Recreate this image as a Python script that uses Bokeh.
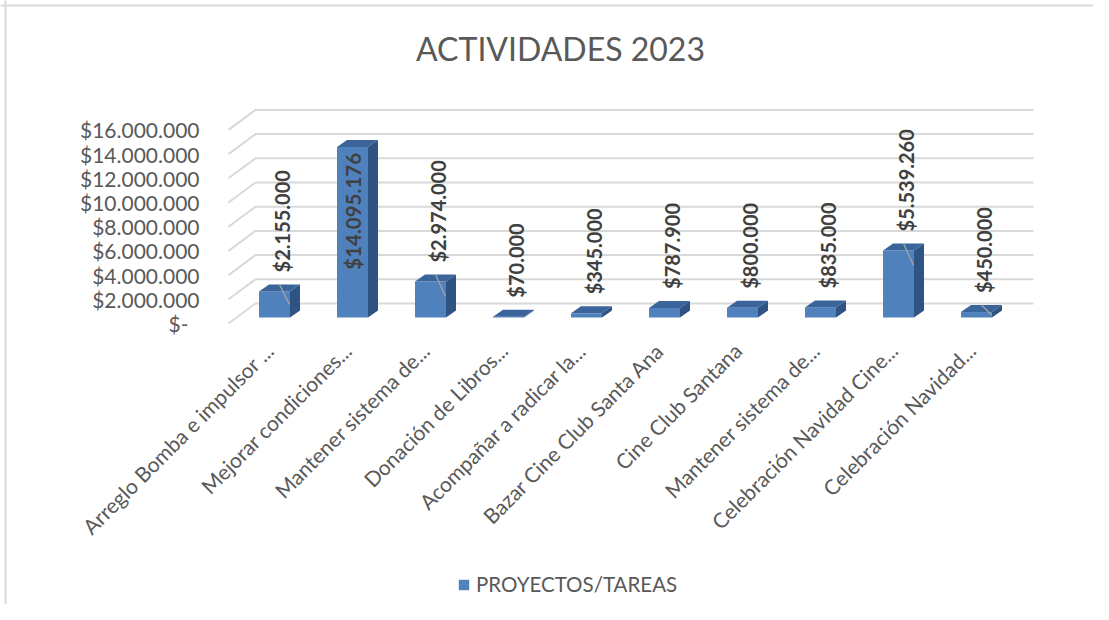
import math
from bokeh.plotting import figure
from bokeh.models import ColumnDataSource, Range1d, Legend, LegendItem, Span
from bokeh.core.properties import value
from bokeh.embed import file_html
from bokeh.resources import INLINE

# ---------------- data ----------------
TITLE = "ACTIVIDADES 2023"
SERIES_NAME = "PROYECTOS/TAREAS"
CATEGORIES = [
    "Arreglo Bomba e impulsor ...",
    "Mejorar condiciones...",
    "Mantener sistema de...",
    "Donación de Libros...",
    "Acompañar a radicar la...",
    "Bazar Cine Club Santa Ana",
    "Cine Club Santana",
    "Mantener sistema de...",
    "Celebración Navidad Cine...",
    "Celebración Navidad...",
]
VALUES = [2155000, 14095176, 2974000, 70000, 345000, 787900, 800000, 835000, 5539260, 450000]
Y_TICKS = [0, 2000000, 4000000, 6000000, 8000000, 10000000, 12000000, 14000000, 16000000]
Y_TICK_LABELS = ["$-", "$2.000.000", "$4.000.000", "$6.000.000", "$8.000.000",
                 "$10.000.000", "$12.000.000", "$14.000.000", "$16.000.000"]
LEADER_BARS = [0, 2, 8, 9]

# ---------------- layout ----------------
W, H = 1093, 604
PX_X = 78.0          # pixels per category
PX_Y = 12.1e-6       # pixels per dollar
X0_PX = 274          # canvas x of first category centre
Y0_PX = 317          # canvas y of value 0 (front face)

def dx(px):
    return px / PX_X

def dy(px):
    return px / PX_Y

x_start = -X0_PX / PX_X
x_end = x_start + W / PX_X
y_end = Y0_PX / PX_Y
y_start = -(H - Y0_PX) / PX_Y

FONT = value("Lato")
TXT = "#595959"
FRONT = "#4F81BD"
TOP = "#3B659A"
SIDE = "#2F5382"
GRID = "#D9D9D9"

p = figure(width=W, height=H, x_range=Range1d(x_start, x_end), y_range=Range1d(y_start, y_end),
           x_axis_type=None, y_axis_type=None, output_backend="svg", toolbar_location=None,
           min_border=0, title=None)
p.grid.visible = False
p.outline_line_color = None
p.background_fill_color = "white"
p.border_fill_color = "white"

# chart-area border (left and top edges visible in the reference)
p.add_layout(Span(location=dx(5 - X0_PX), dimension="height", line_color=GRID, line_width=2))
p.add_layout(Span(location=dy(Y0_PX - 5), dimension="width", line_color=GRID, line_width=2))

idx = list(range(len(CATEGORIES)))

# ---- back wall gridlines with perspective diagonal ----
g_xs, g_ys = [], []
for v in Y_TICKS:
    g_xs.append([dx(228 - X0_PX), dx(255 - X0_PX), dx(1033 - X0_PX)])
    g_ys.append([v - dy(6), v + dy(14), v + dy(14)])
p.multi_line(xs=g_xs, ys=g_ys, line_color=GRID, line_width=2)

# ---- y tick labels ----
tick_src = ColumnDataSource(dict(
    x=[dx(199 - X0_PX)] * len(Y_TICKS),
    y=[v - dy(6) for v in Y_TICKS],
    text=Y_TICK_LABELS,
    xo=[-11 if v == 0 else 0 for v in Y_TICKS],
))
p.text(x="x", y="y", text="text", x_offset="xo", source=tick_src, text_align="right",
       text_baseline="middle", text_font=FONT, text_font_size="21px", text_color=TXT)

# ---- 3D bars ----
bw = dx(31)
ddx = dx(10)
ddy = dy(7)
front = p.vbar(x=idx, width=bw, bottom=0, top=VALUES, fill_color=FRONT, line_color=None)

top_xs, top_ys, side_xs, side_ys = [], [], [], []
for i, v in zip(idx, VALUES):
    l, r = i - bw / 2, i + bw / 2
    top_xs.append([l, r, r + ddx, l + ddx])
    top_ys.append([v, v, v + ddy, v + ddy])
    side_xs.append([r, r + ddx, r + ddx, r])
    side_ys.append([0, ddy, v + ddy, v])
p.patches(xs=top_xs, ys=top_ys, fill_color=TOP, line_color=None)
p.patches(xs=side_xs, ys=side_ys, fill_color=SIDE, line_color=None)

# ---- leader lines ----
lx0, ly0, lx1, ly1 = [], [], [], []
for i in LEADER_BARS:
    v = VALUES[i]
    lx0.append(i + dx(5))
    ly0.append(v + dy(7))
    lx1.append(i + dx(15))
    ly1.append(v - min(dy(15), 0.5 * v))
p.segment(x0=lx0, y0=ly0, x1=lx1, y1=ly1, line_color="#A6A6A6", line_width=1.2)

# ---- data labels ----
def money(v):
    return "$" + f"{v:,}".replace(",", ".")

limit = 0.8 * Y_TICKS[-1]
out_d = dict(x=[], y=[], text=[])
in_d = dict(x=[], y=[], text=[])
for i, v in zip(idx, VALUES):
    if v > limit:
        in_d["x"].append(i)
        in_d["y"].append(v - dy(6))
        in_d["text"].append(money(v))
    else:
        out_d["x"].append(i + dx(7))
        out_d["y"].append(v + dy(19))
        out_d["text"].append(money(v))
p.text(x="x", y="y", text="text", source=ColumnDataSource(out_d), angle=math.pi / 2,
       text_align="left", text_baseline="middle", text_font=FONT, text_font_style="bold",
       text_font_size="20px", text_color="#404040")
p.text(x="x", y="y", text="text", source=ColumnDataSource(in_d), angle=math.pi / 2,
       text_align="right", text_baseline="middle", text_font=FONT, text_font_style="bold",
       text_font_size="20.5px", text_color="#404040")

# ---- category labels ----
cat_src = ColumnDataSource(dict(x=[i - dx(5) for i in idx], y=[-dy(29)] * len(idx), text=CATEGORIES))
p.text(x="x", y="y", text="text", source=cat_src, angle=math.pi / 4, text_align="right",
       text_baseline="alphabetic", text_font=FONT, text_font_size="21px", text_color=TXT)

# ---- title ----
p.text(x=[dx(560 - X0_PX)], y=[dy(Y0_PX - 48)], text=[TITLE], text_align="center",
       text_baseline="middle", text_font=FONT, text_font_size="32px", text_color=TXT)

# ---- legend ----
legend = Legend(items=[LegendItem(label=SERIES_NAME, renderers=[front])], location=(457, 8),
                orientation="horizontal", border_line_color=None, background_fill_alpha=0,
                padding=0, margin=0, glyph_width=13, glyph_height=13, label_standoff=6,
                label_text_font="Lato", label_text_font_size="20.5px", label_text_color=TXT)
p.add_layout(legend)

open("out.html", "w").write(file_html(p, INLINE))
